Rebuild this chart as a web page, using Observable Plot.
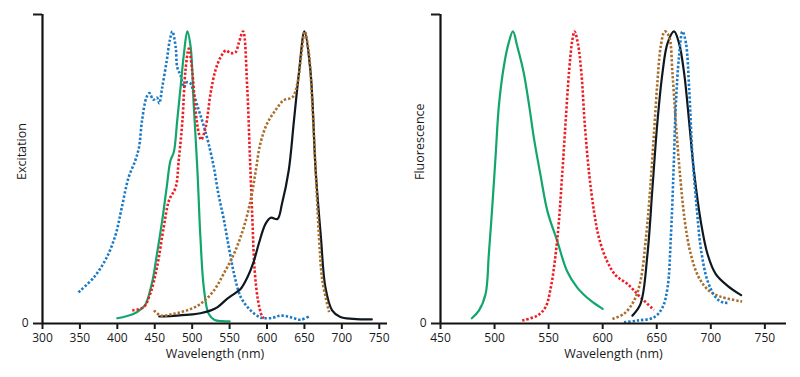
<!DOCTYPE html>
<html>
<head>
<meta charset="utf-8">
<script src="https://cdn.jsdelivr.net/npm/d3@7"></script>
<script src="https://cdn.jsdelivr.net/npm/@observablehq/plot@0.6"></script>
<style>
  html, body { margin: 0; padding: 0; background: #fff; }
  #wrap { display: flex; width: 800px; height: 377px; }
</style>
</head>
<body>
<div id="wrap"></div>
<script>
// ---- Excitation spectra (wavelength nm, normalized intensity) ----
const exBlue = [[348,0.107],[369,0.159],[386,0.227],[398,0.307],[406,0.398],[415,0.50],[424,0.558],[429,0.604],[433,0.695],[439,0.775],[443,0.789],[448,0.766],[453,0.773],[456,0.754],[460,0.809],[466,0.90],[470,0.969],[473.5,1.0],[478,0.946],[480,0.878],[484.5,0.849],[489,0.809],[493,0.826],[498,0.821],[502,0.787],[509,0.729],[516,0.672],[522,0.615],[529,0.535],[535,0.444],[542,0.36],[549,0.261],[556,0.17],[565,0.09],[578,0.045],[590,0.022],[596,0.018],[608,0.02],[618,0.027],[628,0.024],[636,0.018],[645,0.013],[656,0.024]];
const exGreen = [[400,0.018],[412,0.025],[422,0.033],[432,0.05],[438,0.067],[447,0.147],[453,0.239],[460,0.353],[466,0.467],[471,0.558],[475.5,0.587],[480,0.695],[484.5,0.809],[489,0.924],[493.5,1.0],[498,0.946],[502,0.752],[507,0.524],[511,0.296],[515.5,0.124],[522,0.033],[530,0.012],[540,0.008],[550,0.007]];
const exRed = [[420,0.045],[435,0.056],[444,0.102],[453,0.193],[462,0.33],[469,0.421],[478,0.467],[482,0.558],[487,0.695],[491,0.866],[495.5,0.941],[500,0.866],[504.5,0.729],[509,0.65],[512,0.629],[518,0.672],[524.5,0.787],[531,0.866],[538,0.912],[545,0.935],[551,0.926],[558,0.929],[562,0.958],[568,1.0],[573.5,0.809],[577,0.581],[580.5,0.353],[583.5,0.182],[588,0.079],[593,0.027],[596,0.018]];
const exBlack = [[456,0.024],[480,0.027],[500,0.031],[511,0.035],[525,0.045],[534,0.056],[547,0.085],[558,0.105],[565,0.119],[574,0.159],[582,0.21],[589,0.273],[598,0.341],[605,0.362],[614,0.358],[620,0.41],[629,0.524],[636,0.695],[643,0.866],[650,1.0],[658,0.866],[665,0.524],[672,0.296],[678,0.124],[687,0.045],[698,0.022],[715,0.016],[740,0.014]];
const exBrown = [[449,0.045],[458,0.027],[475,0.033],[493,0.045],[511,0.067],[529,0.113],[542,0.17],[556,0.239],[569,0.33],[579,0.433],[585,0.524],[591,0.615],[600,0.684],[611,0.729],[622,0.764],[634,0.775],[640.5,0.821],[646,0.924],[650.5,1.0],[656,0.924],[660.5,0.752],[665,0.524],[669.5,0.296],[674,0.147],[683,0.039]];

// ---- Emission spectra ----
const emGreen = [[479,0.018],[485.5,0.044],[491.7,0.101],[494.7,0.237],[498,0.406],[501,0.576],[504,0.746],[508.6,0.881],[513,0.96],[517,1.0],[521,0.949],[527,0.858],[532,0.746],[536.5,0.632],[542.5,0.508],[549,0.383],[558,0.282],[567,0.18],[576.5,0.123],[589,0.078],[600,0.05]];
const emRed = [[525.6,0.010],[539.5,0.027],[547,0.055],[552,0.123],[556.5,0.237],[559.5,0.35],[562.7,0.519],[565.7,0.689],[568.8,0.858],[572,0.972],[574,1.0],[577,0.96],[580.3,0.858],[583.3,0.689],[587.3,0.519],[592,0.383],[596.6,0.293],[604,0.214],[612,0.165],[623,0.135],[635,0.09],[647.5,0.046]];
const emBrown = [[609,0.016],[619.7,0.033],[629,0.078],[635,0.146],[640,0.293],[644,0.463],[647.5,0.655],[650.6,0.825],[653.7,0.949],[657.4,1.0],[661.4,0.983],[664.5,0.858],[667.6,0.689],[671.3,0.519],[676,0.35],[681.5,0.237],[689,0.157],[698.4,0.112],[709,0.092],[729,0.075]];
const emBlack = [[627.5,0.027],[635,0.067],[641.4,0.237],[646,0.463],[650.6,0.689],[655.3,0.858],[660,0.96],[666,1.0],[670.6,0.96],[675.3,0.858],[680,0.689],[684.5,0.519],[690.7,0.35],[697,0.237],[704.6,0.169],[715.5,0.129],[728,0.097]];
const emBlue = [[619.7,0.004],[632,0.010],[647.5,0.021],[655.3,0.055],[660,0.123],[663,0.293],[665.5,0.519],[667.6,0.746],[670.6,0.915],[673.8,1.0],[677,0.96],[680,0.802],[683,0.576],[687,0.395],[690.7,0.259],[697,0.146],[704.6,0.089],[710,0.074],[713,0.071],[717,0.071]];

// ---- Axes ----
const exTicks = [300, 350, 400, 450, 500, 550, 600, 650, 700, 750];
const emTicks = [450, 500, 550, 600, 650, 700, 750];
const exDomain = [300, 761];
const emDomain = [450, 770];
const yDomain = [0, 1.058];
const xLabel = "Wavelength (nm)";
const exLabel = "Excitation";
const emLabel = "Fluorescence";

const colors = {blue: "#1b7ac6", green: "#12a56c", red: "#ee1d25", brown: "#a86e2c", black: "#0f1820"};
const FONT = "'Open Sans', sans-serif";

const dotted = (data, color) => Plot.line(data, {x: d => d[0], y: d => d[1], stroke: color, strokeWidth: 2.6, strokeDasharray: "2.4,1.9", strokeLinecap: "butt", strokeLinejoin: "miter", curve: "catmull-rom"});
const solid = (data, color) => Plot.line(data, {x: d => d[0], y: d => d[1], stroke: color, strokeWidth: 2.2, curve: "catmull-rom"});

function panel({domain, ticks, ylabel, marginLeft, marginRight, lines}) {
  return Plot.plot({
    width: 400,
    height: 377,
    marginLeft,
    marginRight,
    marginTop: 14,
    marginBottom: 54,
    style: {fontFamily: FONT, fontSize: "12px", color: "#1a1a1a", background: "#fff"},
    x: {domain},
    y: {domain: yDomain},
    marks: [
      ...lines,
      Plot.ruleY([0], {stroke: "#111", strokeWidth: 2.2}),
      Plot.ruleX([domain[0]], {y1: yDomain[0], y2: yDomain[1], stroke: "#111", strokeWidth: 2.2}),
      Plot.axisX({ticks, tickSize: 6, tickPadding: 4, strokeWidth: 2, label: null, fontSize: 12}),
      Plot.axisY({ticks: yDomain, tickSize: 9, tickPadding: 5, strokeWidth: 2, label: null, tickFormat: d => d === 0 ? "0" : "", fontSize: 12}),
      Plot.text([xLabel], {frameAnchor: "bottom", dy: 34, fontSize: 12.5, fill: "#1a1a1a"}),
      Plot.text([ylabel], {frameAnchor: "left", dx: -21, dy: 11, rotate: -90, fontSize: 12.5, fill: "#1a1a1a"})
    ]
  });
}

const left = panel({
  domain: exDomain, ticks: exTicks, ylabel: exLabel, marginLeft: 42, marginRight: 13,
  lines: [dotted(exBlue, colors.blue), solid(exGreen, colors.green), dotted(exRed, colors.red), solid(exBlack, colors.black), dotted(exBrown, colors.brown)]
});
const right = panel({
  domain: emDomain, ticks: emTicks, ylabel: emLabel, marginLeft: 40, marginRight: 14,
  lines: [solid(emGreen, colors.green), dotted(emRed, colors.red), solid(emBlack, colors.black), dotted(emBrown, colors.brown), dotted(emBlue, colors.blue)]
});
document.getElementById("wrap").append(left, right);
</script>
</body>
</html>
